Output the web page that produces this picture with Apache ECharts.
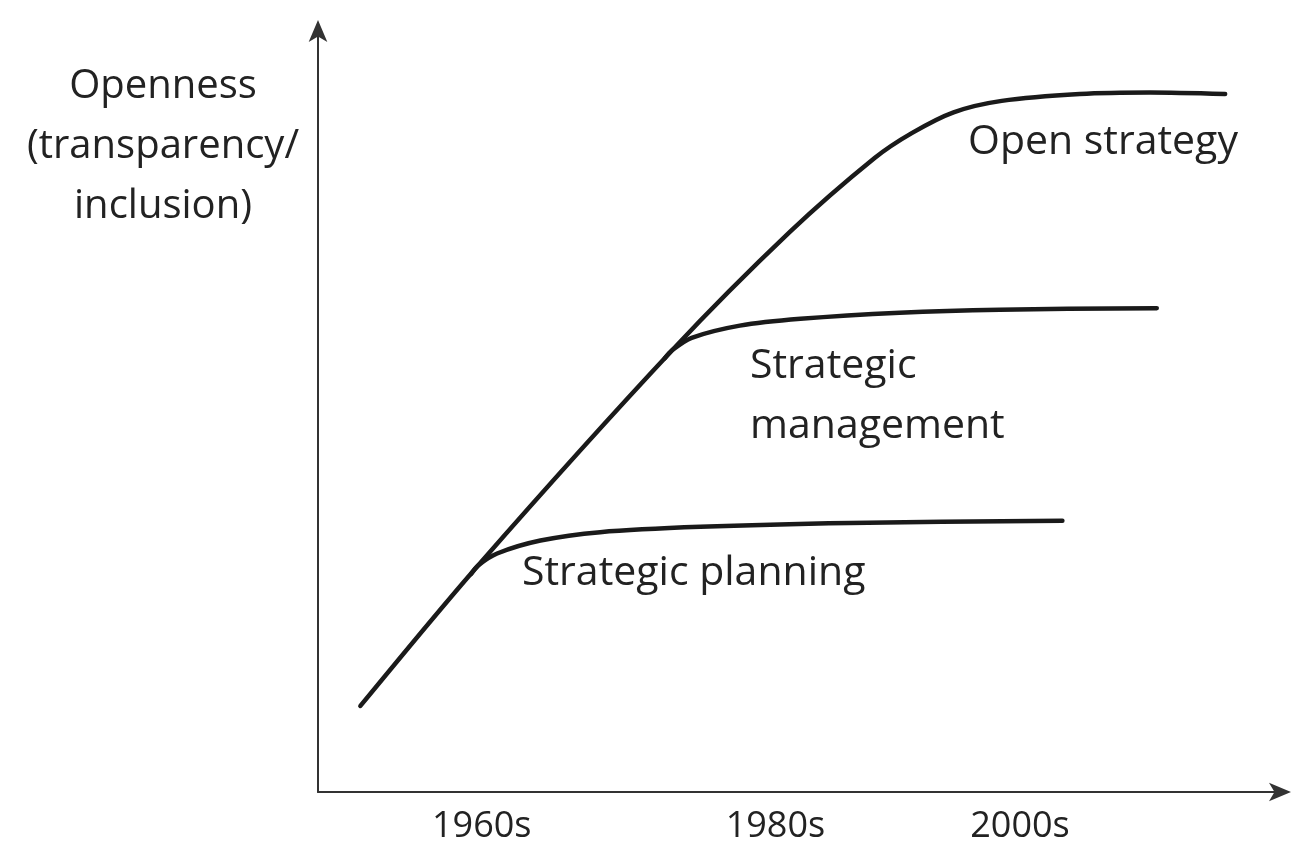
<!DOCTYPE html>
<html>
<head>
<meta charset="utf-8">
<script src="https://cdn.jsdelivr.net/npm/echarts@6/dist/echarts.min.js"></script>
<style>
  html, body { margin: 0; padding: 0; background: #fff; }
  #chart { width: 1314px; height: 866px; }
</style>
</head>
<body>
<div id="chart"></div>
<script>
// time axis ticks (position on the time scale, label)
var tickPos = [17.0, 47.5, 72.9]
var tickLabels = ['1960s', '1980s', '2000s']

// main curve -> open strategy
var openX = [4.4, 16.6, 36.8, 49.0, 57.8, 61.7, 66.0, 71.0, 79.1, 86.4, 94.2]
var openY = [11.3, 29.7, 58.0, 73.5, 83.2, 86.5, 89.2, 90.7, 91.6, 91.8, 91.6]

// strategic planning branch
var planX = [15.9, 16.6, 18.6, 23.1, 29.3, 39.7, 55.2, 77.3]
var planY = [28.6, 29.7, 31.3, 33.0, 34.1, 34.8, 35.3, 35.6]

// strategic management branch
var mgmtX = [36.0, 36.8, 38.8, 43.8, 50.1, 60.4, 70.8, 87.1]
var mgmtY = [56.9, 58.0, 59.6, 61.2, 62.1, 62.9, 63.3, 63.5]

var FONT = '"Open Sans", "Noto Sans", sans-serif'
var INK = '#1a1a1a'

function pairs(xs, ys) {
  return xs.map(function (x, i) { return [x, ys[i]] })
}

function curve(name, xs, ys) {
  return {
    name: name,
    type: 'line',
    data: pairs(xs, ys),
    smooth: 0.3,
    symbol: 'none',
    clip: false,
    lineStyle: { color: INK, width: 4.5, cap: 'round' }
  }
}

var axisLine = {
  lineStyle: { color: '#333', width: 2 },
  symbol: ['none', 'arrow'],
  symbolSize: [14, 22],
  symbolOffset: [0, 10]
}

var myChart = echarts.init(document.getElementById('chart'))
myChart.setOption({
  backgroundColor: '#fff',
  animation: false,
  title: {
    text: 'Openness\n(transparency/\ninclusion)',
    left: 158,
    top: 52,
    textAlign: 'center',
    textStyle: { fontFamily: FONT, fontSize: 40, fontWeight: 'normal', color: '#222', lineHeight: 60 }
  },
  grid: { left: 318, right: 33, top: 30, bottom: 74 },
  xAxis: {
    type: 'value',
    min: 0,
    max: 100,
    splitLine: { show: false },
    axisTick: { show: false },
    axisLine: axisLine,
    axisLabel: {
      customValues: tickPos,
      margin: 17,
      fontFamily: FONT,
      fontSize: 36,
      color: '#222',
      formatter: function (v) {
        var i = tickPos.indexOf(v)
        return i >= 0 ? tickLabels[i] : ''
      }
    }
  },
  yAxis: {
    type: 'value',
    min: 0,
    max: 100,
    splitLine: { show: false },
    axisTick: { show: false },
    axisLabel: { show: false },
    axisLine: axisLine
  },
  graphic: [
    { type: 'text', left: 968, top: 122, style: { text: 'Open strategy', font: '41px ' + FONT, fill: '#222' } },
    { type: 'text', left: 750, top: 336, style: { text: 'Strategic\nmanagement', font: '41px ' + FONT, fill: '#222', lineHeight: 60 } },
    { type: 'text', left: 522, top: 553, style: { text: 'Strategic planning', font: '41px ' + FONT, fill: '#222' } }
  ],
  series: [
    curve('Open strategy', openX, openY),
    curve('Strategic management', mgmtX, mgmtY),
    curve('Strategic planning', planX, planY)
  ]
})
</script>
</body>
</html>
